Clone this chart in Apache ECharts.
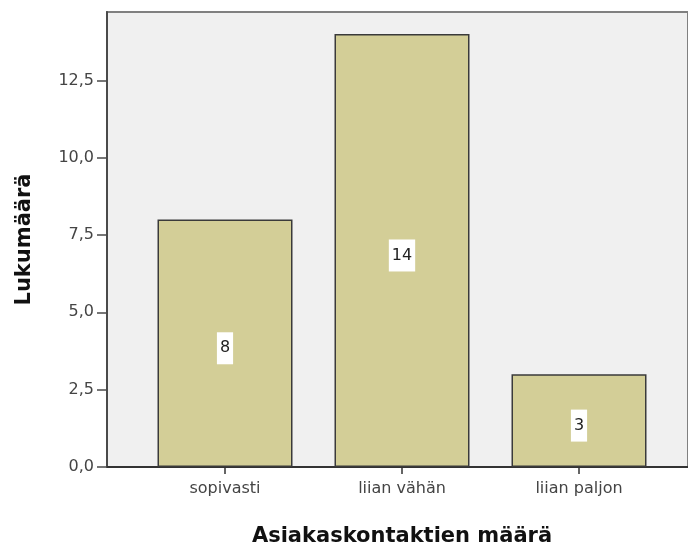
<!DOCTYPE html>
<html>
<head>
<meta charset="utf-8">
<script src="https://cdn.jsdelivr.net/npm/echarts@6/dist/echarts.min.js"></script>
<style>
  html, body { margin: 0; padding: 0; background: #fff; }
  #chart { width: 688px; height: 552px; }
</style>
</head>
<body>
<div id="chart"></div>
<script>
// Asiakaskontaktien määrä – frequency counts
const categories = ['sopivasti', 'liian vähän', 'liian paljon'];
const counts = [8, 14, 3];
const yTicks = [0, 2.5, 5, 7.5, 10, 12.5];

const yMax = 14.71;
const axisColor = '#4a4a4a';
const font = '"DejaVu Sans", Verdana, sans-serif';

const chart = echarts.init(document.getElementById('chart'));

const fmt = v => v.toFixed(1).replace('.', ',');

chart.setOption({
  animation: false,
  grid: [
    // frame: background, value axis and baseline
    { left: 107, top: 12, right: -20, bottom: 85, show: true,
      backgroundColor: '#f0f0f0', borderColor: '#808080', borderWidth: 2 },
    // bars
    { left: 136.5, width: 531, top: 12, bottom: 85 }
  ],
  xAxis: [
    { gridIndex: 0, type: 'value', min: 0, max: 1,
      axisLine: { show: true, lineStyle: { color: '#333', width: 2 } },
      axisTick: { show: false }, axisLabel: { show: false }, splitLine: { show: false } },
    { gridIndex: 1, type: 'category', data: categories,
      axisLine: { show: false },
      axisTick: { show: true, alignWithLabel: true, length: 7, lineStyle: { color: '#333', width: 1.5 } },
      axisLabel: { fontFamily: font, fontSize: 16, color: '#444', margin: 14 },
      name: 'Asiakaskontaktien määrä', nameLocation: 'middle', nameGap: 59,
      nameTextStyle: { fontFamily: font, fontSize: 21, fontWeight: 'bold', color: '#111',
        verticalAlign: 'top' } }
  ],
  yAxis: [
    { gridIndex: 0, type: 'value', min: 0, max: yMax,
      axisLine: { show: true, lineStyle: { color: axisColor, width: 2 } },
      axisTick: { show: true, length: 10, customValues: yTicks,
        lineStyle: { color: axisColor, width: 1.5 } },
      axisLabel: { formatter: fmt, customValues: yTicks, fontFamily: font, fontSize: 16,
        color: '#444', margin: 13 },
      splitLine: { show: false },
      name: 'Lukumäärä', nameLocation: 'middle', nameGap: 72, nameRotate: 90,
      nameTextStyle: { fontFamily: font, fontSize: 21, fontWeight: 'bold', color: '#111' } },
    { gridIndex: 1, type: 'value', min: 0, max: yMax, show: false }
  ],
  series: [{
    type: 'bar',
    xAxisIndex: 1, yAxisIndex: 1,
    data: counts,
    barWidth: 135,
    itemStyle: { color: '#d3ce97', borderColor: '#3a3a3a', borderWidth: 1.5 },
    label: {
      show: true, position: 'inside', offset: [0, 5],
      fontFamily: font, fontSize: 16, color: '#222',
      backgroundColor: '#fff', padding: [9, 3, 7, 3]
    }
  }]
});
</script>
</body>
</html>
